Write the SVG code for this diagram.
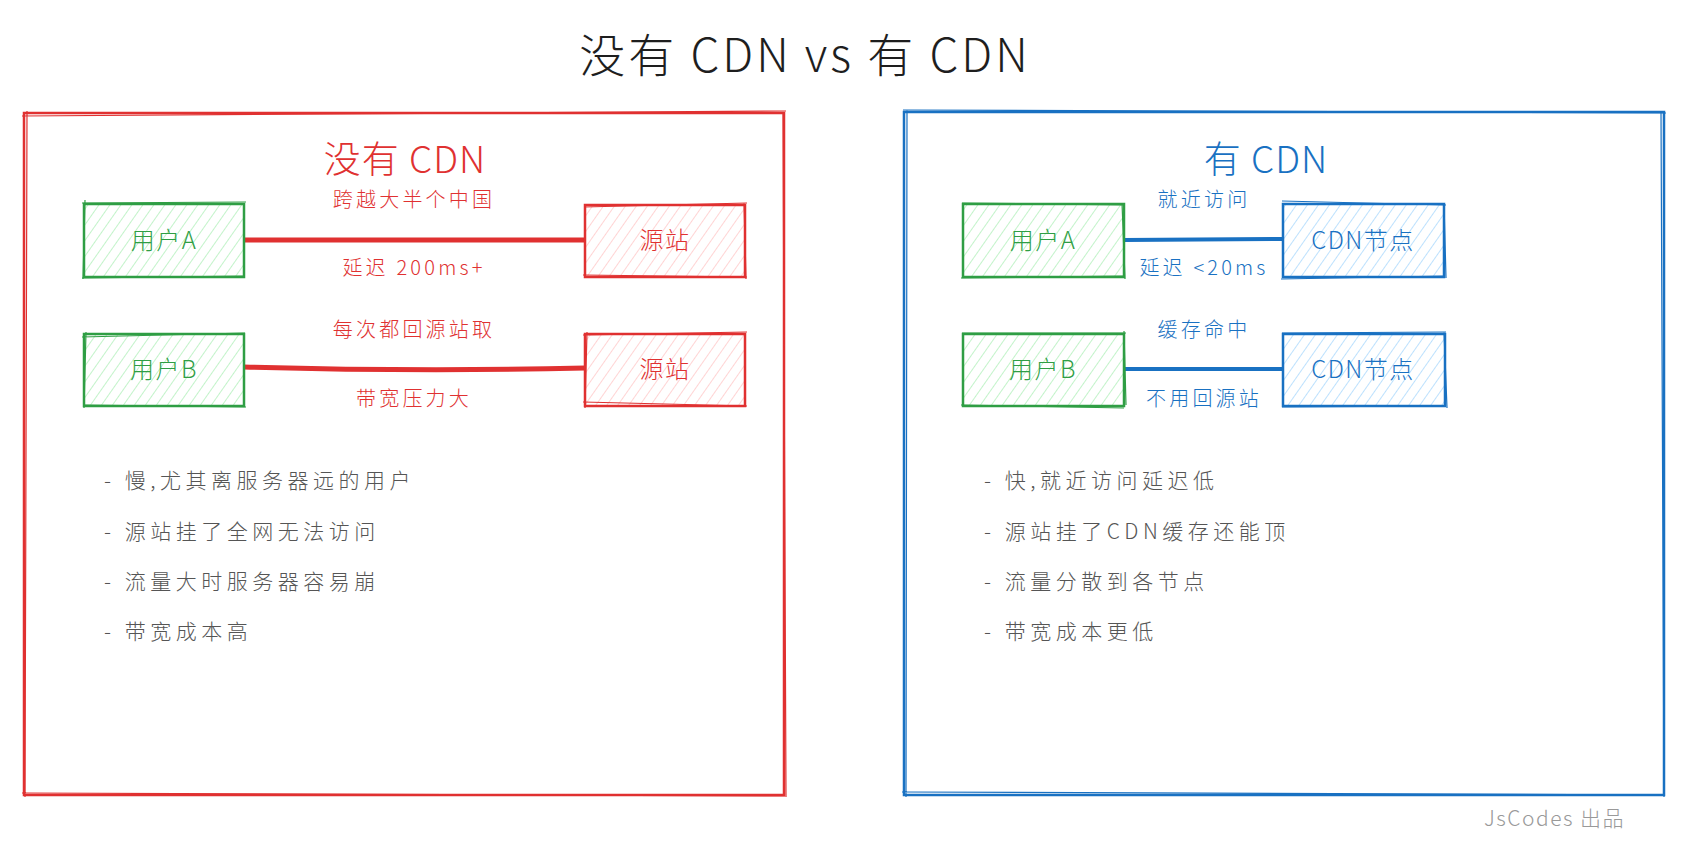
<svg xmlns="http://www.w3.org/2000/svg" width="1708" height="856" viewBox="0 0 1708 856">
<style>
text{font-family:"Noto Sans CJK SC","Noto Sans",sans-serif;font-weight:300}
.title{font-size:46px;fill:#1e1e1e;letter-spacing:3px}
.subR{font-size:37px;fill:#e03131;letter-spacing:1px}
.subB{font-size:37px;fill:#1971c2;letter-spacing:1px}
.lblR{font-size:20px;fill:#e03131;letter-spacing:3.2px}
.lblB{font-size:20px;fill:#1971c2;letter-spacing:3.2px}
.node{font-size:24px;letter-spacing:1.5px}
.g{fill:#2f9e44}.r{fill:#e03131}.b{fill:#1971c2}
.bul{font-size:21px;fill:#555;letter-spacing:4.5px}
.foot{font-size:21px;fill:#999;letter-spacing:1.5px}
.gbox{fill:url(#hG);stroke:#2f9e44;stroke-width:2.5}
.rbox{fill:url(#hR);stroke:#e03131;stroke-width:2.5}
.bbox{fill:url(#hB);stroke:#1971c2;stroke-width:2.5}
.sk{fill:none;stroke-width:1.2}
</style>
<defs>
<pattern id="hG" width="9" height="9" patternUnits="userSpaceOnUse" patternTransform="rotate(35)"><line x1="0" y1="0" x2="0" y2="9" stroke="#a9eeb3" stroke-width="1.4"/></pattern>
<pattern id="hR" width="9" height="9" patternUnits="userSpaceOnUse" patternTransform="rotate(35)"><line x1="0" y1="0" x2="0" y2="9" stroke="#ffc2c2" stroke-width="1.4"/></pattern>
<pattern id="hB" width="9" height="9" patternUnits="userSpaceOnUse" patternTransform="rotate(35)"><line x1="0" y1="0" x2="0" y2="9" stroke="#a0d4fc" stroke-width="1.4"/></pattern>
</defs>
<rect width="1708" height="856" fill="#fff"/>
<text class="title" x="805" y="72" text-anchor="middle">没有 CDN vs 有 CDN</text>

<g id="panel-left">
<rect x="24" y="113" width="760" height="682" fill="none" stroke="#e03131" stroke-width="2.5"/>
<path class="sk" stroke="#e03131" d="M22 116 L786 111 M27 111 L25 797 M783 114 L786 797 M22 793 L785 796"/>
<text class="subR" x="405" y="173" text-anchor="middle">没有 CDN</text>
</g>
<g id="panel-right">
<rect x="904" y="112" width="760" height="683" fill="none" stroke="#1971c2" stroke-width="2.5"/>
<path class="sk" stroke="#1971c2" d="M903 110 L1666 113 M907 110 L906 797 M1661 112 L1664 797 M902 792 L1665 795"/>
<text class="subB" x="1266" y="173" text-anchor="middle">有 CDN</text>
</g>

<g id="connectors">
<line x1="244" y1="240" x2="585" y2="240" stroke="#e03131" stroke-width="5"/>
<path d="M244 367 Q420 372 585 368" fill="none" stroke="#e03131" stroke-width="5"/>
<line x1="1124" y1="240" x2="1283" y2="239" stroke="#1971c2" stroke-width="4"/>
<line x1="1124" y1="369" x2="1283" y2="369" stroke="#1971c2" stroke-width="4"/>
<text class="lblR" x="414" y="207" text-anchor="middle">跨越大半个中国</text>
<text class="lblR" x="414" y="275" text-anchor="middle">延迟 200ms+</text>
<text class="lblR" x="414" y="337" text-anchor="middle">每次都回源站取</text>
<text class="lblR" x="414" y="406" text-anchor="middle">带宽压力大</text>
<text class="lblB" x="1204" y="207" text-anchor="middle">就近访问</text>
<text class="lblB" x="1204" y="275" text-anchor="middle">延迟 &lt;20ms</text>
<text class="lblB" x="1204" y="337" text-anchor="middle">缓存命中</text>
<text class="lblB" x="1204" y="406" text-anchor="middle">不用回源站</text>
</g>

<g id="node-left-userA"><rect class="gbox" x="84" y="204" width="160" height="73"/><path class="sk" stroke="#2f9e44" d="M82 203 L246 202 M85 200 L83 279 M82 278 L245 276"/><text class="node g" x="164" y="249" text-anchor="middle">用户A</text></g>
<g id="node-left-origin1"><rect class="rbox" x="585" y="205" width="160" height="72"/><path class="sk" stroke="#e03131" d="M584 207 L747 203 M744 203 L746 279 M583 275 L747 277"/><text class="node r" x="665" y="249" text-anchor="middle">源站</text></g>
<g id="node-left-userB"><rect class="gbox" x="84" y="334" width="160" height="72"/><path class="sk" stroke="#2f9e44" d="M82 337 L245 333 M86 332 L84 408 M83 405 L246 407"/><text class="node g" x="164" y="378" text-anchor="middle">用户B</text></g>
<g id="node-left-origin2"><rect class="rbox" x="585" y="334" width="160" height="72"/><path class="sk" stroke="#e03131" d="M583 335 L747 332 M587 332 L585 408 M583 402 L747 406"/><text class="node r" x="665" y="378" text-anchor="middle">源站</text></g>

<g id="node-right-userA"><rect class="gbox" x="963" y="204" width="161" height="73"/><path class="sk" stroke="#2f9e44" d="M962 203 L1125 205 M1122 203 L1125 279 M961 278 L1124 276"/><text class="node g" x="1043" y="249" text-anchor="middle">用户A</text></g>
<g id="node-right-cdn1"><rect class="bbox" x="1283" y="204" width="161" height="73"/><path class="sk" stroke="#1971c2" d="M1282 201 L1446 205 M1444 203 L1446 278 M1281 279 L1445 276"/><text class="node b" x="1363" y="249" text-anchor="middle">CDN节点</text></g>
<g id="node-right-userB"><rect class="gbox" x="963" y="334" width="161" height="72"/><path class="sk" stroke="#2f9e44" d="M962 333 L1126 333 M1124 331 L1126 405 M961 405 L1124 408"/><text class="node g" x="1043" y="378" text-anchor="middle">用户B</text></g>
<g id="node-right-cdn2"><rect class="bbox" x="1283" y="334" width="162" height="72"/><path class="sk" stroke="#1971c2" d="M1282 333 L1446 332 M1444 332 L1447 408 M1282 407 L1446 406"/><text class="node b" x="1363" y="378" text-anchor="middle">CDN节点</text></g>

<g id="bullets-left">
<text class="bul" x="104" y="488">- 慢,尤其离服务器远的用户</text>
<text class="bul" x="104" y="539">- 源站挂了全网无法访问</text>
<text class="bul" x="104" y="589">- 流量大时服务器容易崩</text>
<text class="bul" x="104" y="639">- 带宽成本高</text>
</g>
<g id="bullets-right">
<text class="bul" x="984" y="488">- 快,就近访问延迟低</text>
<text class="bul" x="984" y="539">- 源站挂了CDN缓存还能顶</text>
<text class="bul" x="984" y="589">- 流量分散到各节点</text>
<text class="bul" x="984" y="639">- 带宽成本更低</text>
</g>
<text class="foot" x="1484" y="826">JsCodes 出品</text>
</svg>
